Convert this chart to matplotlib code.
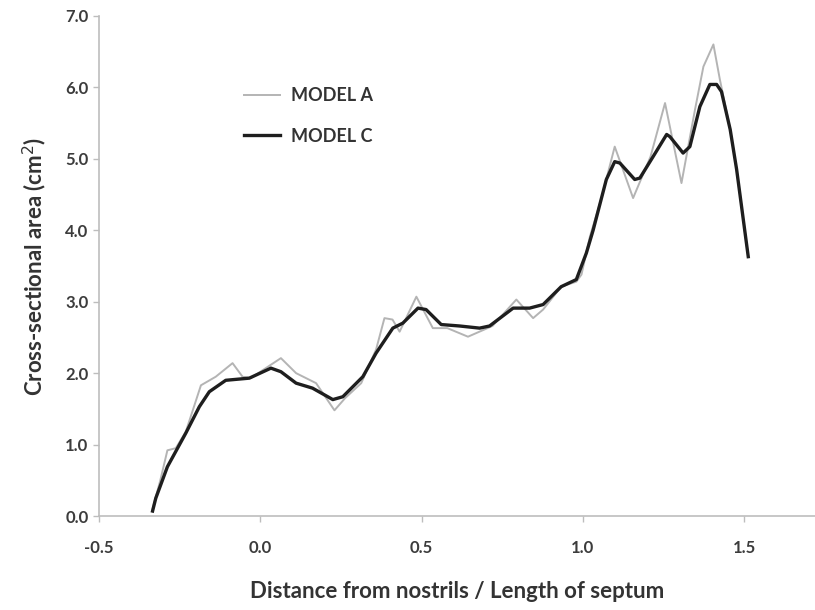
import matplotlib
matplotlib.use("Agg")
import matplotlib.pyplot as plt

plt.rcParams['font.family'] = ['Lato', 'DejaVu Sans']

# Model A (thin grey line)
xa = [-0.334, -0.31, -0.288, -0.262, -0.231, -0.184, -0.138, -0.086, -0.055, -0.03,
      0.064, 0.111, 0.173, 0.23, 0.263, 0.313, 0.359, 0.385, 0.41, 0.432, 0.484,
      0.535, 0.58, 0.644, 0.72, 0.794, 0.846, 0.877, 0.933, 0.98, 0.996, 1.022,
      1.058, 1.099, 1.156, 1.21, 1.255, 1.306, 1.348, 1.374, 1.405, 1.425, 1.457,
      1.477, 1.513]
ya = [0.10, 0.50, 0.92, 0.95, 1.18, 1.83, 1.95, 2.14, 1.95, 1.93,
      2.21, 2.00, 1.86, 1.48, 1.65, 1.86, 2.33, 2.77, 2.75, 2.58, 3.07,
      2.63, 2.63, 2.51, 2.66, 3.03, 2.77, 2.89, 3.21, 3.28, 3.38, 3.91,
      4.45, 5.17, 4.45, 5.03, 5.78, 4.66, 5.69, 6.29, 6.60, 6.11, 5.41,
      4.85, 3.63]

# Model C (thick black line)
xc = [-0.334, -0.324, -0.288, -0.231, -0.189, -0.158, -0.107, -0.034, 0.033, 0.064,
      0.111, 0.162, 0.225, 0.256, 0.318, 0.359, 0.411, 0.442, 0.489, 0.514, 0.561,
      0.618, 0.68, 0.711, 0.784, 0.835, 0.877, 0.933, 0.98, 1.011, 1.032, 1.073,
      1.099, 1.115, 1.161, 1.177, 1.218, 1.26, 1.27, 1.311, 1.332, 1.363, 1.394,
      1.415, 1.43, 1.457, 1.477, 1.513]
yc = [0.07, 0.25, 0.69, 1.16, 1.53, 1.74, 1.90, 1.93, 2.07, 2.02,
      1.86, 1.79, 1.63, 1.67, 1.95, 2.28, 2.63, 2.70, 2.91, 2.89, 2.68,
      2.66, 2.63, 2.66, 2.91, 2.91, 2.96, 3.21, 3.31, 3.68, 4.00, 4.71,
      4.96, 4.94, 4.71, 4.73, 5.03, 5.34, 5.31, 5.08, 5.17, 5.73, 6.04,
      6.04, 5.94, 5.41, 4.85, 3.63]

xticks = [-0.5, 0.0, 0.5, 1.0, 1.5]
yticks = [0.0, 1.0, 2.0, 3.0, 4.0, 5.0, 6.0, 7.0]

fig = plt.figure(figsize=(8.15, 6.10), dpi=100)
ax = fig.add_axes([0.1215, 0.154, 0.8785, 0.82])

ax.plot(xa, ya, color='#b4b4b4', lw=1.4, label='MODEL A', solid_joinstyle='round')
ax.plot(xc, yc, color='#1e1e1e', lw=2.4, label='MODEL C', solid_joinstyle='round')

ax.set_xlim(-0.5, 1.72)
ax.set_ylim(0, 7)
ax.set_xticks(xticks)
ax.set_yticks(yticks)
ax.set_xticklabels(['%.1f' % v for v in xticks])
ax.set_yticklabels(['%.1f' % v for v in yticks])

for s in ['top', 'right']:
    ax.spines[s].set_visible(False)
for s in ['left', 'bottom']:
    ax.spines[s].set_color('#bdbdbd')
    ax.spines[s].set_linewidth(1.2)
ax.tick_params(axis='both', colors='#bdbdbd', labelcolor='#3c3c3c',
               labelsize=12, length=4, width=1)
ax.tick_params(axis='x', pad=13)
for lab in ax.get_xticklabels() + ax.get_yticklabels():
    lab.set_fontweight('bold')

ax.set_xlabel('Distance from nostrils / Length of septum', fontsize=16,
              color='#333333', labelpad=18, fontweight='bold')
ax.set_ylabel('Cross-sectional area (cm$^2$)', fontsize=16, color='#333333',
              labelpad=12, fontweight='bold')

leg = ax.legend(loc='upper left', bbox_to_anchor=(0.18, 0.89), frameon=False,
                fontsize=13, handlelength=2.0, labelspacing=1.3,
                handletextpad=0.6)
for t in leg.get_texts():
    t.set_color('#333333')
    t.set_fontweight('bold')

fig.savefig('out.png', dpi=100)
